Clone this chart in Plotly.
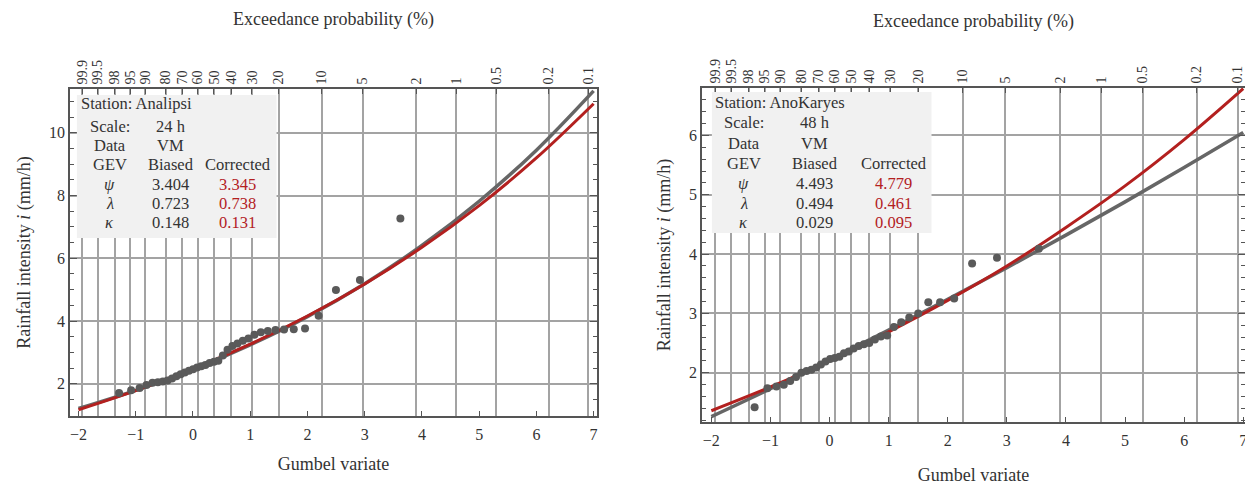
import plotly.graph_objects as go

W, H = 1253, 486
OFF = 8  # page body margin of the html page
FONT = "Liberation Serif"
TXT = "#333333"
RED = "#b3201f"
GRAYLINE = "#666666"
PTS = "#5a5a5a"
GRID = "#a3a3a3"
FRAME = "#555555"

# ---------------- data ----------------
curve_x = [-2, -1, 0, 1, 2, 3, 4, 5, 6, 7]
left_biased = [1.21, 1.79, 2.46, 3.24, 4.14, 5.19, 6.41, 7.82, 9.45, 11.34]
left_corrected = [1.17, 1.78, 2.47, 3.26, 4.16, 5.18, 6.35, 7.68, 9.20, 10.93]
right_biased = [1.26, 1.73, 2.22, 2.72, 3.24, 3.77, 4.32, 4.88, 5.46, 6.05]
right_corrected = [1.36, 1.76, 2.20, 2.69, 3.22, 3.80, 4.45, 5.15, 5.93, 6.79]

left_pts_x = [-1.291, -1.080, -0.932, -0.812, -0.707, -0.613, -0.526, -0.443, -0.365,
              -0.289, -0.215, -0.142, -0.070, 0.002, 0.073, 0.145, 0.218, 0.291, 0.367,
              0.443, 0.522, 0.604, 0.689, 0.778, 0.871, 0.969, 1.074, 1.186, 1.308,
              1.442, 1.592, 1.761, 1.958, 2.196, 2.498, 2.917, 3.624]
left_pts_y = [1.70, 1.79, 1.86, 1.96, 2.03, 2.05, 2.07, 2.10, 2.17,
              2.24, 2.30, 2.36, 2.41, 2.46, 2.52, 2.56, 2.60, 2.66, 2.70,
              2.73, 2.90, 3.08, 3.20, 3.28, 3.37, 3.44, 3.56, 3.64, 3.68,
              3.71, 3.73, 3.74, 3.76, 4.17, 4.99, 5.31, 7.27]

right_pts_x = [-1.268, -1.052, -0.899, -0.774, -0.666, -0.567, -0.476, -0.389, -0.306,
               -0.225, -0.146, -0.068, 0.010, 0.087, 0.166, 0.245, 0.326, 0.408, 0.493,
               0.581, 0.672, 0.767, 0.868, 0.975, 1.089, 1.213, 1.349, 1.500, 1.671,
               1.870, 2.109, 2.412, 2.833, 3.541]
right_pts_y = [1.42, 1.74, 1.77, 1.80, 1.86, 1.93, 2.00, 2.03, 2.05,
               2.09, 2.14, 2.19, 2.23, 2.25, 2.27, 2.33, 2.36, 2.41, 2.45,
               2.48, 2.50, 2.56, 2.61, 2.63, 2.77, 2.85, 2.93, 3.00, 3.19,
               3.19, 3.25, 3.84, 3.94, 4.09]

prob_labels = ["99.9", "99.5", "98", "95", "90", "80", "70", "60", "50", "40",
               "30", "20", "10", "5", "2", "1", "0.5", "0.2", "0.1"]
prob_pos = [-1.933, -1.667, -1.364, -1.097, -0.834, -0.476, -0.186, 0.087, 0.367,
            0.672, 1.031, 1.500, 2.250, 2.970, 3.902, 4.600, 5.296, 6.214, 6.907]

gumbel_ticks = [-2, -1, 0, 1, 2, 3, 4, 5, 6, 7]
left_yticks = [2, 4, 6, 8, 10]
right_yticks = [2, 3, 4, 5, 6]

left_table = {"station": "Analipsi", "scale": "24 h",
              "biased": ["3.404", "0.723", "0.148"],
              "corrected": ["3.345", "0.738", "0.131"]}
right_table = {"station": "AnoKaryes", "scale": "48 h",
               "biased": ["4.493", "0.494", "0.029"],
               "corrected": ["4.779", "0.461", "0.095"]}

# ---------------- layout geometry (page pixels) ----------------
L = dict(x0=70, x1=598, y0=89, y1=416, xr=[-2.15, 7.06], yr=[0.97, 11.4])
R = dict(x0=703, x1=1247, y0=88, y1=422, xr=[-2.16, 7.03], yr=[1.17, 6.8])

fig = go.Figure()


def add_panel(P, cx, ylo, yhi, px, py, sfx, tsfx):
    xa = "x" + sfx
    ya = "y" + sfx
    xt = "x" + tsfx
    fig.add_trace(go.Scatter(x=cx, y=ylo, mode="lines", line=dict(color=GRAYLINE, width=3.5),
                             xaxis=xa, yaxis=ya, showlegend=False, line_shape="spline"))
    fig.add_trace(go.Scatter(x=cx, y=yhi, mode="lines", line=dict(color=RED, width=3),
                             xaxis=xa, yaxis=ya, showlegend=False, line_shape="spline"))
    fig.add_trace(go.Scatter(x=px, y=py, mode="markers", marker=dict(color=PTS, size=8),
                             xaxis=xa, yaxis=ya, showlegend=False))
    fig.add_trace(go.Scatter(x=[P["xr"][0], P["xr"][1]], y=[None, None], mode="markers",
                             xaxis=xt, yaxis=ya, showlegend=False, hoverinfo="skip"))


add_panel(L, curve_x, left_biased, left_corrected, left_pts_x, left_pts_y, "", "3")
add_panel(R, curve_x, right_biased, right_corrected, right_pts_x, right_pts_y, "2", "4")


def xdom(P):
    return [(P["x0"] - OFF) / W, (P["x1"] - OFF) / W]


def ydom(P):
    return [1 - (P["y1"] - OFF) / H, 1 - (P["y0"] - OFF) / H]


tickfont = dict(family=FONT, size=16, color=TXT)
titlefont = dict(family=FONT, size=18, color=TXT)


def bottom_axis(standoff):
    return dict(tickvals=gumbel_ticks, ticks="inside", ticklen=5, tickcolor=FRAME,
                showline=True, linecolor=FRAME, linewidth=1.5, showgrid=False,
                zeroline=False, tickfont=tickfont, ticklabelstandoff=3,
                title=dict(text="Gumbel variate", font=titlefont, standoff=standoff))


def top_axis(standoff):
    return dict(tickvals=prob_pos, ticktext=prob_labels, ticks="inside", ticklen=5,
                tickcolor=FRAME, showline=True, linecolor=FRAME, linewidth=1.5,
                showgrid=True, gridcolor=GRID, gridwidth=1.5, zeroline=False,
                tickangle=-90, side="top",
                tickfont=dict(family=FONT, size=14, color=TXT),
                title=dict(text="Exceedance probability (%)", font=titlefont, standoff=standoff))


common_y = dict(ticks="inside", ticklen=7, tickcolor=FRAME, showline=True, linecolor=FRAME,
                linewidth=1.5, mirror="ticks", showgrid=True, gridcolor=GRID, gridwidth=1.5,
                zeroline=False, tickfont=tickfont,
                title=dict(text="Rainfall intensity <i>i</i> (mm/h)", font=titlefont, standoff=14))

fig.update_layout(
    xaxis=dict(domain=xdom(L), range=L["xr"], anchor="y", **bottom_axis(15)),
    xaxis3=dict(range=L["xr"], overlaying="x", anchor="y", **top_axis(30)),
    yaxis=dict(domain=ydom(L), range=L["yr"], anchor="x", tickvals=left_yticks,
               minor=dict(dtick=0.5, ticks="inside", ticklen=4, tickcolor=FRAME, showgrid=False),
               **common_y),
    xaxis2=dict(domain=xdom(R), range=R["xr"], anchor="y2", **bottom_axis(20)),
    xaxis4=dict(range=R["xr"], overlaying="x2", anchor="y2", **top_axis(27)),
    yaxis2=dict(domain=ydom(R), range=R["yr"], anchor="x2", tickvals=right_yticks,
                minor=dict(dtick=0.2, ticks="inside", ticklen=4, tickcolor=FRAME, showgrid=False),
                **common_y),
)


# ---------------- parameter tables ----------------
def add_table(P, T, xref, yref, box, col1, col2, col3, left_x, rows):
    def fx(px):
        return (px - P["x0"]) / (P["x1"] - P["x0"])

    def fy(py):
        return (P["y1"] - py) / (P["y1"] - P["y0"])

    fig.add_shape(type="rect", xref=xref + " domain", yref=yref + " domain",
                  x0=fx(box[0]), x1=fx(box[1]), y0=fy(box[3]), y1=fy(box[2]),
                  fillcolor="#f1f1f1", line=dict(width=0), layer="above")
    f = dict(family=FONT, size=16.5, color=TXT)
    fr = dict(family=FONT, size=16.5, color=RED)

    def ann(text, px, py, font, anchor="center"):
        fig.add_annotation(text=text, x=fx(px), y=fy(py), xref=xref + " domain",
                           yref=yref + " domain", showarrow=False, font=font,
                           xanchor=anchor, yanchor="middle")

    ann("Station: " + T["station"], left_x, rows[0], f, "left")
    ann("Scale:", col1, rows[1], f)
    ann(T["scale"], col2, rows[1], f)
    ann("Data", col1, rows[2], f)
    ann("VM", col2, rows[2], f)
    ann("GEV", col1, rows[3], f)
    ann("Biased", col2, rows[3], f)
    ann("Corrected", col3, rows[3], f)
    for i, sym in enumerate(["<i>ψ</i>", "<i>λ</i>", "<i>κ</i>"]):
        ann(sym, col1, rows[4 + i], f)
        ann(T["biased"][i], col2, rows[4 + i], f)
        ann(T["corrected"][i], col3, rows[4 + i], fr)


add_table(L, left_table, "x", "y", (77, 277, 95, 238), 110, 171, 238, 79,
          [104, 126, 146, 165, 184, 203, 223])
add_table(R, right_table, "x2", "y2", (713, 933, 92, 233), 745, 816, 895, 714,
          [102, 122, 143, 163, 183, 203, 222])

fig.update_layout(width=W, height=H, margin=dict(l=0, r=0, t=0, b=0),
                  paper_bgcolor="white", plot_bgcolor="white", showlegend=False)

fig.write_html("out.html")
